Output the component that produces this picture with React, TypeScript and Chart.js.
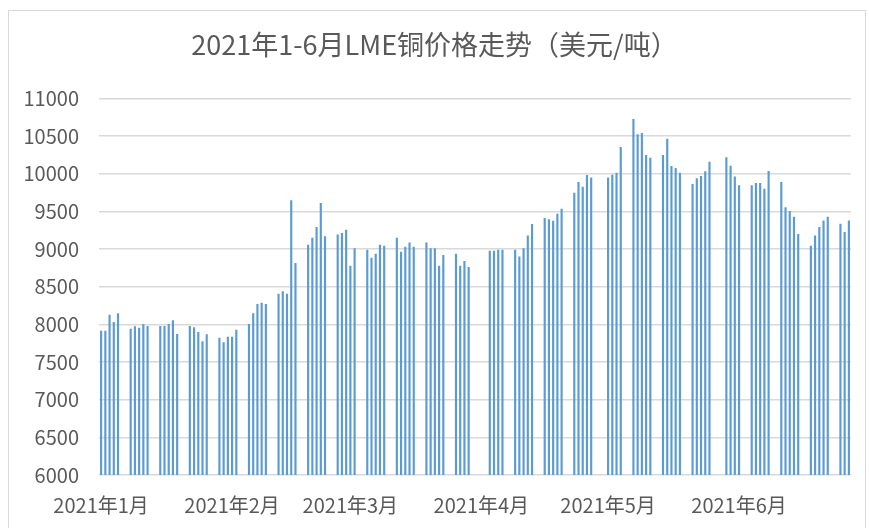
import React, { useEffect, useRef } from "react";
import { Chart, registerables } from "chart.js";

Chart.register(...registerables);

const chartTitle = "2021年1-6月LME铜价格走势（美元/吨）";

// axis covers every calendar day between these dates (Excel date axis)
const axisStart = [2021, 1, 4];
const axisEnd = [2021, 6, 30];

// LME trading days and prices (USD/t)
const tradeDates = [
  "2021-01-04", "2021-01-05", "2021-01-06", "2021-01-07", "2021-01-08",
  "2021-01-11", "2021-01-12", "2021-01-13", "2021-01-14", "2021-01-15",
  "2021-01-18", "2021-01-19", "2021-01-20", "2021-01-21", "2021-01-22",
  "2021-01-25", "2021-01-26", "2021-01-27", "2021-01-28", "2021-01-29",
  "2021-02-01", "2021-02-02", "2021-02-03", "2021-02-04", "2021-02-05",
  "2021-02-08", "2021-02-09", "2021-02-10", "2021-02-11", "2021-02-12",
  "2021-02-15", "2021-02-16", "2021-02-17", "2021-02-18", "2021-02-19",
  "2021-02-22", "2021-02-23", "2021-02-24", "2021-02-25", "2021-02-26",
  "2021-03-01", "2021-03-02", "2021-03-03", "2021-03-04", "2021-03-05",
  "2021-03-08", "2021-03-09", "2021-03-10", "2021-03-11", "2021-03-12",
  "2021-03-15", "2021-03-16", "2021-03-17", "2021-03-18", "2021-03-19",
  "2021-03-22", "2021-03-23", "2021-03-24", "2021-03-25", "2021-03-26",
  "2021-03-29", "2021-03-30", "2021-03-31", "2021-04-01",
  "2021-04-06", "2021-04-07", "2021-04-08", "2021-04-09",
  "2021-04-12", "2021-04-13", "2021-04-14", "2021-04-15", "2021-04-16",
  "2021-04-19", "2021-04-20", "2021-04-21", "2021-04-22", "2021-04-23",
  "2021-04-26", "2021-04-27", "2021-04-28", "2021-04-29", "2021-04-30",
  "2021-05-04", "2021-05-05", "2021-05-06", "2021-05-07",
  "2021-05-10", "2021-05-11", "2021-05-12", "2021-05-13", "2021-05-14",
  "2021-05-17", "2021-05-18", "2021-05-19", "2021-05-20", "2021-05-21",
  "2021-05-24", "2021-05-25", "2021-05-26", "2021-05-27", "2021-05-28",
  "2021-06-01", "2021-06-02", "2021-06-03", "2021-06-04",
  "2021-06-07", "2021-06-08", "2021-06-09", "2021-06-10", "2021-06-11",
  "2021-06-14", "2021-06-15", "2021-06-16", "2021-06-17", "2021-06-18",
  "2021-06-21", "2021-06-22", "2021-06-23", "2021-06-24", "2021-06-25",
  "2021-06-28", "2021-06-29", "2021-06-30",
];

const lmeCopperPrices = [
  7912, 7912, 8124, 8027, 8142,
  7938, 7969, 7951, 8000, 7973,
  7973, 7973, 8000, 8049, 7867,
  7973, 7956, 7894, 7770, 7863,
  7819, 7757, 7832, 7832, 7925,
  8000, 8142, 8266, 8283, 8266,
  8403, 8434, 8403, 9642, 8810,
  9053, 9146, 9288, 9606, 9164,
  9190, 9208, 9252, 8774, 9005,
  8987, 8881, 8934, 9053, 9040,
  9146, 8960, 9027, 9084, 9027,
  9084, 9005, 9005, 8774, 8916,
  8934, 8774, 8836, 8757,
  8974, 8974, 8987, 8987,
  8987, 8898, 9005, 9177, 9328,
  9407, 9390, 9372, 9465, 9531,
  9743, 9885, 9823, 9978, 9947,
  9947, 9983, 10009, 10350,
  10721, 10518, 10536, 10244, 10208,
  10244, 10460, 10098, 10071, 10009,
  9859, 9934, 9965, 10027, 10155,
  10213, 10102, 9960, 9841,
  9841, 9872, 9872, 9797, 10032,
  9885, 9549, 9500, 9425, 9195,
  9040, 9177, 9288, 9376, 9425,
  9332, 9221, 9376,
];

const yMin = 6000;
const yMax = 11000;
const yStep = 500;

const pad2 = (n: number) => (n < 10 ? "0" + n : "" + n);

function buildCalendar(): string[] {
  const out: string[] = [];
  let t = Date.UTC(axisStart[0], axisStart[1] - 1, axisStart[2]);
  const end = Date.UTC(axisEnd[0], axisEnd[1] - 1, axisEnd[2]);
  while (t <= end) {
    const d = new Date(t);
    out.push(`${d.getUTCFullYear()}-${pad2(d.getUTCMonth() + 1)}-${pad2(d.getUTCDate())}`);
    t += 86400000;
  }
  return out;
}

const FONT = '"Noto Sans CJK SC", "Noto Sans", sans-serif';
const TEXT = "#595959";
const GRID = "#d9d9d9";
const BAR = "#5B9BD5";

export default function App() {
  const ref = useRef<HTMLCanvasElement | null>(null);

  useEffect(() => {
    if (!ref.current) return;
    const calendar = buildCalendar();
    const priceMap: Record<string, number> = {};
    tradeDates.forEach((d, i) => (priceMap[d] = lmeCopperPrices[i]));
    const values = calendar.map((d) => (d in priceMap ? priceMap[d] : null));
    const startDay = pad2(axisStart[2]);

    const chart = new Chart(ref.current, {
      type: "bar",
      data: {
        labels: calendar,
        datasets: [
          {
            label: "LME铜价格",
            data: values as any,
            backgroundColor: BAR,
            borderWidth: 0,
            barThickness: 1.5,
          },
        ],
      },
      options: {
        animation: false,
        responsive: false,
        maintainAspectRatio: false,
        layout: { padding: { left: 18, right: 18, top: 0, bottom: 0 } },
        plugins: {
          legend: { display: false },
          tooltip: { enabled: false },
          title: {
            display: true,
            text: chartTitle,
            color: TEXT,
            font: { family: FONT, size: 27, weight: "normal" as any, lineHeight: 1.2 },
            padding: { top: 29, bottom: 37 },
          },
        },
        scales: {
          x: {
            type: "category",
            offset: true,
            grid: { display: false },
            border: { display: false },
            ticks: {
              autoSkip: false,
              maxRotation: 0,
              minRotation: 0,
              padding: 10,
              color: TEXT,
              font: { family: FONT, size: 20 },
              callback: (_v: any, i: number) => {
                const d = calendar[i];
                if (!d) return "";
                const [y, m, day] = d.split("-");
                return day === startDay ? `${y}年${parseInt(m, 10)}月` : "";
              },
            },
            afterFit: (s: any) => {
              s.height = 53;
            },
          },
          y: {
            min: yMin,
            max: yMax,
            grid: { color: GRID, lineWidth: 1.5, drawTicks: false },
            border: { display: false },
            ticks: {
              stepSize: yStep,
              padding: 20,
              color: TEXT,
              font: { family: FONT, size: 20 },
              callback: (v: any) => String(v),
            },
            afterFit: (s: any) => {
              s.width = 81;
            },
          },
        },
      },
    });
    return () => chart.destroy();
  }, []);

  return (
    <div style={{ position: "fixed", left: 0, top: 0, width: 869, height: 528, background: "#fff", overflow: "hidden" }}>
      <div
        style={{
          position: "absolute",
          left: 8,
          top: 10,
          width: 858,
          height: 540,
          border: "1.5px solid #d9d9d9",
          boxSizing: "border-box",
        }}
      />
      <canvas ref={ref} width={869} height={528} style={{ position: "absolute", left: 0, top: 0 }} />
    </div>
  );
}
